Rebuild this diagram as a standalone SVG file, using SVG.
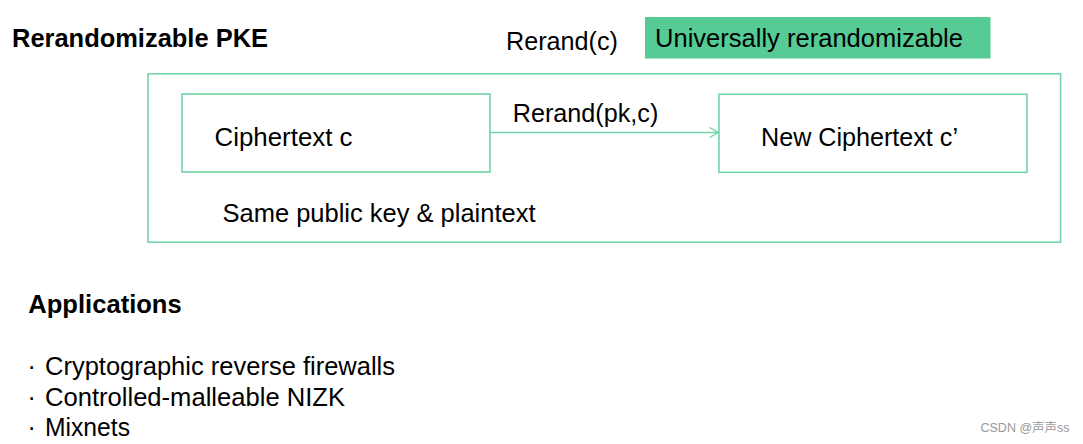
<svg xmlns="http://www.w3.org/2000/svg" width="1083" height="444" viewBox="0 0 1083 444">
<style>
text{font-family:"Liberation Sans",Arial,sans-serif;fill:#000;font-size:25px}
.b{font-weight:bold}
.box{fill:none;stroke:#74D4A8;stroke-width:1.6}
.wm{font-family:"Liberation Sans","Noto Sans CJK SC",sans-serif;font-size:12.5px;fill:#999}
</style>
<defs>
<marker id="arr" viewBox="0 0 10 12" refX="10" refY="6" markerWidth="10" markerHeight="12" markerUnits="userSpaceOnUse" orient="auto">
<path d="M1,1 L10,6 L1,11" fill="none" stroke="#74D4A8" stroke-width="1.4"/>
</marker>
</defs>
<rect width="1083" height="444" fill="#fff"/>
<text class="b" x="12" y="47" font-size="24.3" textLength="256" lengthAdjust="spacingAndGlyphs">Rerandomizable PKE</text>
<text x="506" y="49.5" textLength="112" lengthAdjust="spacingAndGlyphs">Rerand(c)</text>
<g id="badge">
<rect x="645" y="17" width="345.5" height="41.5" fill="#56CB96"/>
<text x="655" y="47" textLength="308" lengthAdjust="spacingAndGlyphs">Universally rerandomizable</text>
</g>
<g id="container">
<rect class="box" x="148" y="73.8" width="912.6" height="168.4"/>
<text x="222.5" y="222" textLength="313" lengthAdjust="spacingAndGlyphs">Same public key &amp; plaintext</text>
</g>
<g id="ciphertext">
<rect class="box" x="182" y="94" width="308" height="78"/>
<text x="214.5" y="145.5" textLength="138" lengthAdjust="spacingAndGlyphs">Ciphertext c</text>
</g>
<g id="newciphertext">
<rect class="box" x="719" y="94.3" width="308" height="78"/>
<text x="761" y="146" textLength="197" lengthAdjust="spacingAndGlyphs">New Ciphertext c’</text>
</g>
<g id="connectors">
<line x1="490" y1="132.5" x2="718.5" y2="132.5" stroke="#74D4A8" stroke-width="1.4" marker-end="url(#arr)"/>
<text x="512.7" y="121.7" textLength="145.6" lengthAdjust="spacingAndGlyphs">Rerand(pk,c)</text>
</g>
<text class="b" x="28.3" y="313.3" textLength="153.4" lengthAdjust="spacingAndGlyphs">Applications</text>
<text x="27.5" y="375">·</text>
<text x="45" y="375" textLength="350" lengthAdjust="spacingAndGlyphs">Cryptographic reverse firewalls</text>
<text x="27.5" y="406">·</text>
<text x="45" y="406" textLength="300" lengthAdjust="spacingAndGlyphs">Controlled-malleable NIZK</text>
<text x="27.5" y="436">·</text>
<text x="45" y="436" textLength="85" lengthAdjust="spacingAndGlyphs">Mixnets</text>
<text class="wm" x="980.5" y="431.5">CSDN @声声ss</text>
</svg>
